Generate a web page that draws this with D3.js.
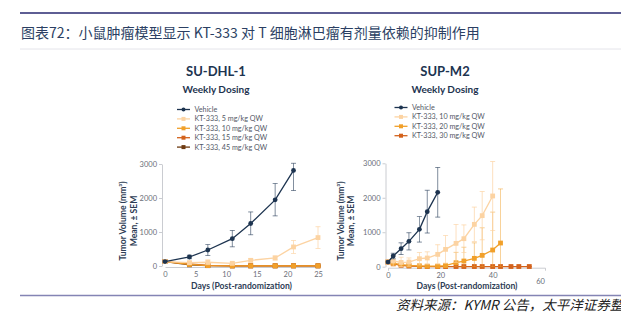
<!DOCTYPE html>
<html><head><meta charset="utf-8">
<script src="https://cdn.jsdelivr.net/npm/d3@7/dist/d3.min.js"></script>
<style>
body{margin:0;background:#fff;}
svg{display:block;}
</style></head>
<body>
<svg id="c" width="621" height="323"></svg>
<script>
// ---------- DATA ----------
const titleText = "图表72：小鼠肿瘤模型显示 KT-333 对 T 细胞淋巴瘤有剂量依赖的抑制作用";
const sourceText = "资料来源：KYMR 公告，太平洋证券整理";

// Left panel: SU-DHL-1
const leftTitle = "SU-DHL-1";
const leftSubtitle = "Weekly Dosing";
const leftLegend = ["Vehicle","KT-333, 5 mg/kg QW","KT-333, 10 mg/kg QW","KT-333, 15 mg/kg QW","KT-333, 45 mg/kg QW"];
const leftXTicks = [0,5,10,15,20,25];
const leftYTicks = [0,1000,2000,3000];
const leftVehDays = [0,4,7,11,14,18,21];
const leftVehVals = [130,265,470,805,1250,1945,2810];
const leftVehErr  = [30,50,160,240,340,480,210];
const leftVehErrLo= [30,50,160,240,330,470,590];
const leftTrtDays = [0,4,7,11,14,18,21,25];
const left5Vals   = [130,98,110,79,167,236,560,836];
const left5Err    = [20,40,70,40,50,60,190,320];
const left10Vals  = [130,45,12,5,5,5,5,5];
const left15Vals  = [130,60,18,5,5,5,5,5];
const left45Vals  = [130,35,10,4,4,4,4,4];
const leftSmallErr= [15,20,10,5,5,5,5,5];

// Right panel: SUP-M2
const rightTitle = "SUP-M2";
const rightSubtitle = "Weekly Dosing";
const rightLegend = ["Vehicle","KT-333, 10 mg/kg QW","KT-333, 20 mg/kg QW","KT-333, 30 mg/kg QW"];
const rightXTicks = [0,20,40,60];
const rightYTicks = [0,1000,2000,3000];
const rightVehDays = [0,2,5,8,12,15,19];
const rightVehVals = [135,310,523,736,1084,1597,2158];
const rightVehErr  = [30,80,170,250,370,620,720];
const right10Days = [0,2,5,8,12,15,19,22,26,29,33,36,40];
const right10Vals = [135,165,125,135,232,252,358,503,677,813,1229,1481,2052];
const right10Err  = [30,150,150,120,180,180,280,400,550,400,500,700,1000];
const right20Days = [0,2,5,8,12,15,19,22,26,29,33,36,40,43];
const right20Vals = [135,100,60,40,25,15,15,30,116,165,242,329,484,687];
const right20Err  = [20,30,30,30,20,20,20,60,300,400,450,800,1100,1570];
const right30Days = [0,2,5,8,12,15,19,22,26,29,33,36,40,43,47,50,54];
const right30Vals = [135,85,40,20,10,5,5,5,5,5,5,5,5,5,5,5,5];
const right30Err  = [10,15,10,8,5,5,5,5,5,5,5,5,5,5,5,5,5];

// ---------- STYLE ----------
const C = {veh:"#1d3450", light:"#fcd3a2", orange:"#f1a02a", dark:"#d3621c", brown:"#6e3b12"};
const navy = "#1d3450";

const svg = d3.select("#c");

// Header
svg.append("line").attr("x1",20).attr("x2",621).attr("y1",13).attr("y2",13)
  .attr("stroke","#5e5e94").attr("stroke-width",2.2);
svg.append("text").attr("x",21).attr("y",37.5).text(titleText)
  .attr("font-family","'Noto Sans CJK SC'").attr("font-size",14).attr("fill","#2b3f63");
svg.append("line").attr("x1",20).attr("x2",621).attr("y1",49).attr("y2",49)
  .attr("stroke","#e4e4ea").attr("stroke-width",1);
// Footer
svg.append("line").attr("x1",20).attr("x2",621).attr("y1",295.5).attr("y2",295.5)
  .attr("stroke","#8484b4").attr("stroke-width",1.3);
svg.append("text").attr("x",396).attr("y",310).text(sourceText)
  .attr("font-family","'Noto Sans CJK SC'").attr("font-size",13.5).attr("font-style","italic")
  .attr("fill","#222");

function makeSeries(days, vals, err, errLo){
  return days.map((d,i)=>({x:d, y:vals[i], hi:err?err[i]:0, lo:errLo?errLo[i]:(err?err[i]:0)}));
}

function panel(cfg){
  const g = svg.append("g");
  const x = d3.scaleLinear().domain(cfg.xDomain).range(cfg.xRange);
  const y = d3.scaleLinear().domain([0,3000]).range(cfg.yRange);
  const font = "Lato, 'Open Sans', sans-serif";

  g.append("text").attr("x",cfg.titleX).attr("y",76).attr("text-anchor","middle")
    .attr("font-family",font).attr("font-weight",700).attr("font-size",13).attr("fill",navy).text(cfg.title);
  g.append("text").attr("x",cfg.titleX).attr("y",93).attr("text-anchor","middle")
    .attr("font-family",font).attr("font-weight",700).attr("font-size",10).attr("fill",navy).text(cfg.subtitle);

  cfg.legend.forEach((name,i)=>{
    const ly = cfg.legY + i*9.4;
    const col = cfg.colors[i];
    g.append("line").attr("x1",cfg.legX).attr("x2",cfg.legX+13).attr("y1",ly).attr("y2",ly)
      .attr("stroke",col).attr("stroke-width",1.3);
    if(i===0) g.append("circle").attr("cx",cfg.legX+6.5).attr("cy",ly).attr("r",2).attr("fill",col);
    else g.append("rect").attr("x",cfg.legX+4.5).attr("y",ly-2).attr("width",4).attr("height",4).attr("fill",col);
    g.append("text").attr("x",cfg.legX+17.5).attr("y",ly+2.5).text(name)
      .attr("font-family",font).attr("font-size",7.2).attr("fill","#535866");
  });

  const ya = g.append("g").attr("transform",`translate(${cfg.yAxisX},0)`)
    .call(d3.axisLeft(y).tickValues(cfg.yTicks).tickFormat(d3.format("d")).tickSize(3).tickSizeOuter(0).tickPadding(2));
  const xa = g.append("g").attr("transform",`translate(0,${cfg.yRange[0]+1})`)
    .call(d3.axisBottom(x).tickValues(cfg.xTicks).tickFormat(d3.format("d")).tickSizeInner(0).tickSizeOuter(cfg.xOuter).tickPadding(5));
  [ya,xa].forEach(a=>{
    a.selectAll("path,line").attr("stroke","#c4c6cc").attr("stroke-width",0.9);
    a.selectAll("text").attr("font-family",font).attr("font-size",7.5).attr("fill","#6a6e78");
  });
  if(cfg.lastTickDy) xa.selectAll(".tick text").filter(d=>d===cfg.xDomain[1])
    .attr("dy",cfg.lastTickDy).attr("dx",-5);

  g.append("text").attr("x",cfg.xTitleX).attr("y",288.5).attr("text-anchor","middle")
    .attr("font-family",font).attr("font-weight",700).attr("font-size",8.6).attr("fill","#2e3d55")
    .text("Days (Post-randomization)");
  const yt = g.append("text").attr("transform",`translate(${cfg.yTitleX},221) rotate(-90)`)
    .attr("text-anchor","middle").attr("font-family",font).attr("font-weight",700)
    .attr("font-size",8.6).attr("fill","#2e3d55");
  yt.append("tspan").attr("x",0).attr("dy",0).text("Tumor Volume (mm³)");
  yt.append("tspan").attr("x",0).attr("dy",10.5).text("Mean, ± SEM");

  const line = d3.line().x(d=>x(d.x)).y(d=>y(d.y));
  // drawn back to front: last series first
  cfg.series.slice().reverse().forEach(s=>{
    const sg = g.append("g");
    s.data.forEach(d=>{
      if(d.hi<=0) return;
      const top = y(d.y + d.hi), bot = y(Math.max(0, d.y - d.lo));
      sg.append("line").attr("x1",x(d.x)).attr("x2",x(d.x)).attr("y1",top).attr("y2",bot)
        .attr("stroke",s.color).attr("stroke-width",0.8).attr("opacity",s.errOp||0.85);
      [top,bot].forEach(yy=>sg.append("line").attr("x1",x(d.x)-2.5).attr("x2",x(d.x)+2.5)
        .attr("y1",yy).attr("y2",yy).attr("stroke",s.color).attr("stroke-width",0.8).attr("opacity",s.errOp||0.85));
    });
    sg.append("path").datum(s.data).attr("d",line).attr("fill","none")
      .attr("stroke",s.color).attr("stroke-width",1.3);
    if(s.circle){
      sg.selectAll("circle").data(s.data).join("circle").attr("cx",d=>x(d.x)).attr("cy",d=>y(d.y))
        .attr("r",2.4).attr("fill",s.color);
    } else {
      sg.selectAll("rect").data(s.data).join("rect").attr("x",d=>x(d.x)-2.4).attr("y",d=>y(d.y)-2.4)
        .attr("width",4.8).attr("height",4.8).attr("fill",s.color);
    }
  });
}

panel({
  title:leftTitle, subtitle:leftSubtitle, titleX:216, legend:leftLegend, legX:177, legY:109.5,
  colors:[C.veh,C.light,C.orange,C.dark,C.brown],
  xDomain:[0,25], xRange:[165,318], yRange:[266,164], yAxisX:162,
  xTicks:leftXTicks, yTicks:leftYTicks, xOuter:0, xTitleX:241.5, yTitleX:126,
  series:[
    {data:makeSeries(leftVehDays,leftVehVals,leftVehErr,leftVehErrLo), color:C.veh, circle:true, errOp:0.7},
    {data:makeSeries(leftTrtDays,left5Vals,left5Err), color:C.light},
    {data:makeSeries(leftTrtDays,left10Vals,leftSmallErr), color:C.orange},
    {data:makeSeries(leftTrtDays,left15Vals,leftSmallErr), color:C.dark},
    {data:makeSeries(leftTrtDays,left45Vals,leftSmallErr), color:C.brown}
  ]
});

panel({
  title:rightTitle, subtitle:rightSubtitle, titleX:445, legend:rightLegend, legX:394.5, legY:107.5,
  colors:[C.veh,C.light,C.orange,C.dark],
  xDomain:[0,60], xRange:[388,545], yRange:[266.7,163.3], yAxisX:385.5,
  xTicks:rightXTicks, yTicks:rightYTicks, xOuter:3, lastTickDy:"1.45em", xTitleX:467, yTitleX:343.5,
  series:[
    {data:makeSeries(rightVehDays,rightVehVals,rightVehErr), color:C.veh, circle:true, errOp:0.7},
    {data:makeSeries(right10Days,right10Vals,right10Err), color:C.light},
    {data:makeSeries(right20Days,right20Vals,right20Err), color:C.orange, errOp:0.6},
    {data:makeSeries(right30Days,right30Vals,right30Err), color:C.dark}
  ]
});
</script>
</body></html>
